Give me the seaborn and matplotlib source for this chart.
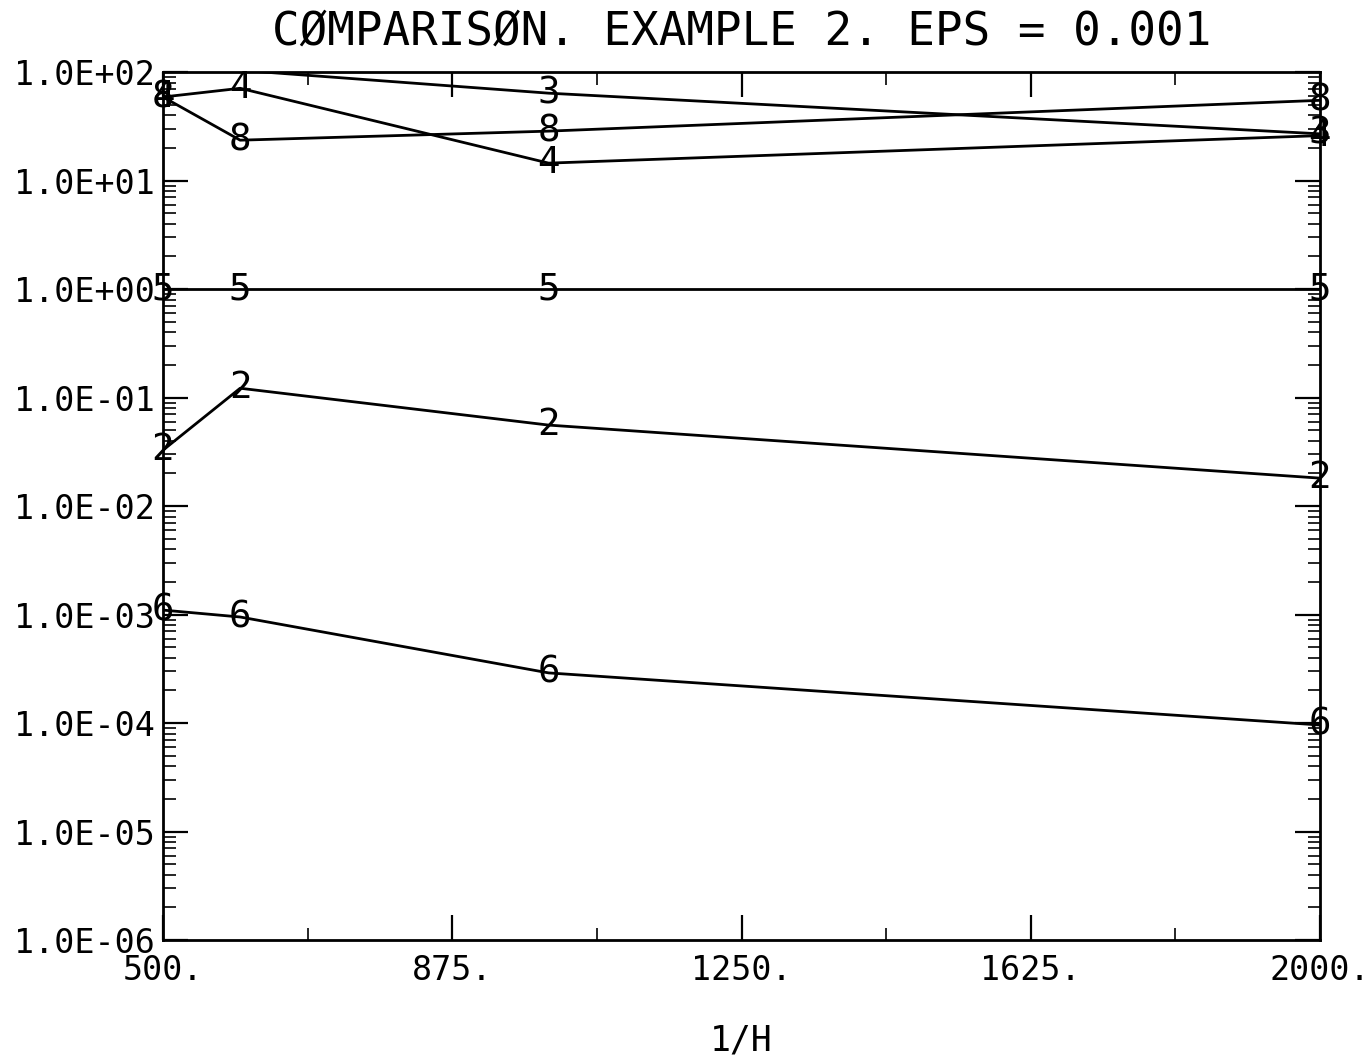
import matplotlib
matplotlib.use("Agg")
import matplotlib.pyplot as plt
import seaborn as sns
import pandas as pd
import numpy as np
from matplotlib.ticker import FixedLocator, LogLocator, NullFormatter, FixedFormatter

inv_h = [500, 600, 1000, 2000]
s2 = [0.0328, 0.122, 0.0558, 0.0181]
s3 = [101.0, 104.0, 64.0, 27.0]
s4 = [59.0, 71.0, 14.5, 26.0]
s5 = [1.0, 1.0, 1.0, 1.0]
s6 = [0.0011, 0.00095, 0.00029, 0.000096]
s8 = [59.0, 23.6, 28.6, 55.0]
series_names = ["2", "3", "4", "5", "6", "8"]
x_ticks = [500, 875, 1250, 1625, 2000]
x_tick_labels = ["500.", "875.", "1250.", "1625.", "2000."]
y_ticks = [1e-6, 1e-5, 1e-4, 1e-3, 1e-2, 1e-1, 1e0, 1e1, 1e2]
y_tick_labels = ["1.0E-06", "1.0E-05", "1.0E-04", "1.0E-03", "1.0E-02",
                 "1.0E-01", "1.0E+00", "1.0E+01", "1.0E+02"]

values = [s2, s3, s4, s5, s6, s8]
df = pd.DataFrame({
    "x": np.tile(inv_h, len(series_names)),
    "y": np.concatenate(values),
    "s": np.repeat(series_names, len(inv_h)),
})

sns.set_theme(style="white")
plt.rcParams['font.family'] = ['DejaVu Sans Mono', 'DejaVu Sans']

fig = plt.figure(figsize=(13.7, 10.61), dpi=100)
ax = fig.add_axes([0.119, 0.114, 0.8445, 0.818])

sns.lineplot(data=df, x="x", y="y", hue="s", palette=["black"] * len(series_names),
             legend=False, ax=ax, linewidth=2.0, estimator=None, sort=False)
ax.set_yscale("log")
ax.set_xlim(500, 2000)
ax.set_ylim(1e-6, 1e2)

ymin, ymax = ax.get_ylim()
for name, vals in zip(series_names, values):
    for xv, yv in zip(inv_h, vals):
        if ymin <= yv <= ymax:
            ax.text(xv, yv, name, ha="center", va="center", fontsize=27,
                    color="black", clip_on=False, fontweight="light")

ax.xaxis.set_major_locator(FixedLocator(x_ticks))
ax.xaxis.set_major_formatter(FixedFormatter(x_tick_labels))
ax.xaxis.set_minor_locator(FixedLocator([687.5, 1062.5, 1437.5, 1812.5]))
ax.yaxis.set_major_locator(FixedLocator(y_ticks))
ax.yaxis.set_major_formatter(FixedFormatter(y_tick_labels))
ax.yaxis.set_minor_locator(LogLocator(base=10, subs=np.arange(2, 10), numticks=20))
ax.yaxis.set_minor_formatter(NullFormatter())

ax.tick_params(axis="both", which="major", direction="in", length=18, width=1.6,
               top=True, right=True, left=True, bottom=True, labelsize=24,
               colors="black")
ax.tick_params(axis="both", which="minor", direction="in", length=9, width=1.4,
               top=True, right=True, left=True, bottom=True)
ax.tick_params(axis="x", which="major", pad=10)
ax.tick_params(axis="y", which="major", pad=6)
for sp in ax.spines.values():
    sp.set_color("black")
    sp.set_linewidth(2.0)

ax.set_xlabel("1/H", fontsize=25, labelpad=26, color="black")
ax.set_ylabel("")
ax.set_title("CØMPARISØN. EXAMPLE 2. EPS = 0.001", fontsize=33, pad=20, color="black")

fig.savefig("out.png", dpi=100, facecolor="white")
